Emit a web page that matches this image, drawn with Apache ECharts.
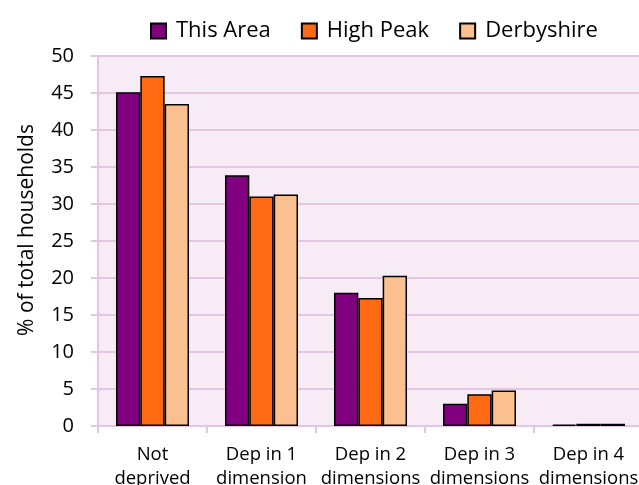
<!DOCTYPE html>
<html>
<head>
<meta charset="utf-8">
<script src="https://cdn.jsdelivr.net/npm/echarts@6/dist/echarts.min.js"></script>
<style>
  html, body { margin: 0; padding: 0; background: #fff; }
  #chart { width: 639px; height: 485px; }
</style>
</head>
<body>
<div id="chart"></div>
<script>
// categories and values
var categories = ['Not\ndeprived', 'Dep in 1\ndimension', 'Dep in 2\ndimensions', 'Dep in 3\ndimensions', 'Dep in 4\ndimensions']
var thisArea = [45.1, 33.9, 18.0, 3.0, 0.2]
var highPeak = [47.3, 31.0, 17.3, 4.3, 0.3]
var derbyshire = [43.5, 31.3, 20.3, 4.8, 0.3]

var font = 'Open Sans'
var chart = echarts.init(document.getElementById('chart'))

function bar(name, data, color) {
  return {
    name: name,
    type: 'bar',
    data: data,
    barGap: '0%',
    barCategoryGap: '33%',
    itemStyle: { color: color, borderColor: '#000', borderWidth: 1.5 }
  }
}

chart.setOption({
  animation: false,
  textStyle: { fontFamily: font },
  legend: {
    top: 15,
    left: 145,
    icon: 'rect',
    itemWidth: 15,
    itemHeight: 15,
    itemGap: 30,
    textStyle: { fontSize: 22, color: '#000', fontFamily: font, padding: [0, 0, 0, 5] },
    data: ['This Area', 'High Peak', 'Derbyshire']
  },
  grid: {
    left: 98,
    top: 56,
    width: 545,
    height: 370,
    outerBoundsMode: 'none',
    containLabel: false,
    show: true,
    backgroundColor: '#f7ebf6',
    borderWidth: 0
  },
  xAxis: {
    type: 'category',
    data: categories,
    axisLine: { lineStyle: { color: '#e4c6e4', width: 2 } },
    axisTick: { show: true, length: 7, lineStyle: { color: '#e4c6e4', width: 2 } },
    axisLabel: { fontSize: 18.5, color: '#000', lineHeight: 24, margin: 17, interval: 0 }
  },
  yAxis: {
    type: 'value',
    min: 0,
    max: 50,
    interval: 5,
    name: '% of total households',
    nameLocation: 'middle',
    nameGap: 60,
    nameTextStyle: { fontSize: 21, color: '#000', padding: [0, 0, 0, 22] },
    axisLine: { show: true, lineStyle: { color: '#e4c6e4', width: 2 } },
    axisTick: { show: true, length: 7, lineStyle: { color: '#e4c6e4', width: 2 } },
    axisLabel: { fontSize: 20, color: '#000', margin: 24 },
    splitLine: { lineStyle: { color: '#e4c6e4', width: 2 } }
  },
  series: [
    bar('This Area', thisArea, '#800080'),
    bar('High Peak', highPeak, '#ff6a13'),
    bar('Derbyshire', derbyshire, '#fbc08f')
  ]
})
</script>
</body>
</html>
